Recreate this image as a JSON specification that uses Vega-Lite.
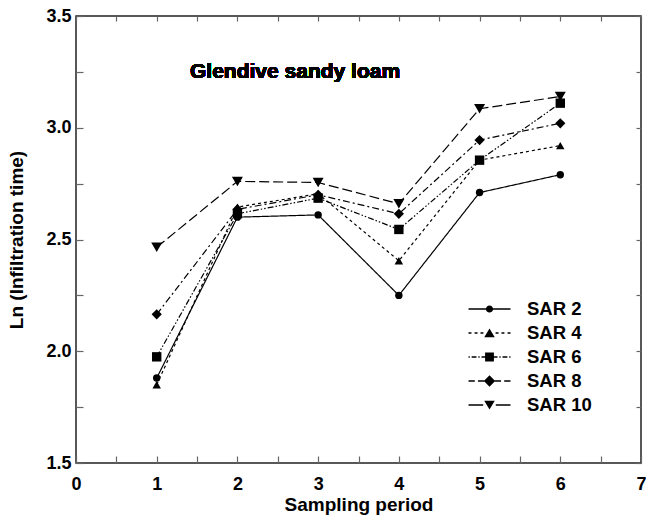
{
  "$schema": "https://vega.github.io/schema/vega-lite/v6.json",
  "width": 565,
  "height": 447,
  "autosize": {"type": "none"},
  "padding": {"left": 76, "top": 16, "right": 5, "bottom": 52},
  "background": "white",
  "config": {
    "view": {"stroke": "#222", "strokeWidth": 1.5},
    "font": "Liberation Sans",
    "axis": {
      "labelFont": "Liberation Sans", "labelFontWeight": "bold", "labelFontSize": 18, "labelColor": "black",
      "titleFont": "Liberation Sans", "titleFontWeight": "bold", "titleFontSize": 19, "titleColor": "black",
      "domain": false, "grid": false, "ticks": true, "tickColor": "#666", "tickWidth": 1.2, "tickOpacity": 1, "zindex": 1
    },
    "legend": {"labelFont": "Liberation Sans", "labelFontWeight": "bold", "labelFontSize": 18.5, "labelColor": "black"}
  },
  "data": {
    "values": [
      {"period": 1, "sar": "SAR 2", "ln": 1.88},
      {"period": 2, "sar": "SAR 2", "ln": 2.60},
      {"period": 3, "sar": "SAR 2", "ln": 2.61},
      {"period": 4, "sar": "SAR 2", "ln": 2.25},
      {"period": 5, "sar": "SAR 2", "ln": 2.71},
      {"period": 6, "sar": "SAR 2", "ln": 2.79},
      {"period": 1, "sar": "SAR 4", "ln": 1.85},
      {"period": 2, "sar": "SAR 4", "ln": 2.645},
      {"period": 3, "sar": "SAR 4", "ln": 2.705},
      {"period": 4, "sar": "SAR 4", "ln": 2.405},
      {"period": 5, "sar": "SAR 4", "ln": 2.855},
      {"period": 6, "sar": "SAR 4", "ln": 2.92},
      {"period": 1, "sar": "SAR 6", "ln": 1.975},
      {"period": 2, "sar": "SAR 6", "ln": 2.615},
      {"period": 3, "sar": "SAR 6", "ln": 2.685},
      {"period": 4, "sar": "SAR 6", "ln": 2.545},
      {"period": 5, "sar": "SAR 6", "ln": 2.855},
      {"period": 6, "sar": "SAR 6", "ln": 3.11},
      {"period": 1, "sar": "SAR 8", "ln": 2.165},
      {"period": 2, "sar": "SAR 8", "ln": 2.635},
      {"period": 3, "sar": "SAR 8", "ln": 2.70},
      {"period": 4, "sar": "SAR 8", "ln": 2.615},
      {"period": 5, "sar": "SAR 8", "ln": 2.945},
      {"period": 6, "sar": "SAR 8", "ln": 3.02},
      {"period": 1, "sar": "SAR 10", "ln": 2.465},
      {"period": 2, "sar": "SAR 10", "ln": 2.76},
      {"period": 3, "sar": "SAR 10", "ln": 2.755},
      {"period": 4, "sar": "SAR 10", "ln": 2.66},
      {"period": 5, "sar": "SAR 10", "ln": 3.085},
      {"period": 6, "sar": "SAR 10", "ln": 3.14}
    ]
  },
  "layer": [
    {
      "mark": {"type": "line", "color": "black", "strokeWidth": 1.2},
      "encoding": {
        "x": {
          "field": "period", "type": "quantitative",
          "scale": {"domain": [0, 7], "nice": false, "zero": false},
          "axis": {
            "orient": "bottom", "title": "Sampling period",
            "values": [0, 0.5, 1, 1.5, 2, 2.5, 3, 3.5, 4, 4.5, 5, 5.5, 6, 6.5, 7],
            "labelExpr": "datum.value % 1 === 0 ? format(datum.value, 'd') : ''",
            "tickSize": -7,
            "labelPadding": 19, "titlePadding": 2, "labelFlush": false
          }
        },
        "y": {
          "field": "ln", "type": "quantitative",
          "scale": {"domain": [1.5, 3.5], "nice": false, "zero": false},
          "axis": {
            "orient": "left", "title": "Ln (Infiltration time)", "format": ".1f",
            "values": [1.5, 1.75, 2, 2.25, 2.5, 2.75, 3, 3.25, 3.5],
            "labelExpr": "(datum.value * 2) % 1 === 0 ? datum.label : ''",
            "tickSize": -7,
            "labelPadding": 12, "titlePadding": 19, "labelFlush": false
          }
        },
        "strokeDash": {
          "field": "sar", "type": "nominal", "legend": null,
          "scale": {
            "domain": ["SAR 2", "SAR 4", "SAR 6", "SAR 8", "SAR 10"],
            "range": [[1, 0], [3, 3], [6, 2, 1.5, 2, 1.5, 2], [7, 3, 2, 3], [10, 4]]
          }
        }
      }
    },
    {
      "mark": {"type": "point", "filled": true, "color": "black", "opacity": 1},
      "encoding": {
        "x": {
          "field": "period", "type": "quantitative",
          "axis": {
            "orient": "top", "title": null, "labels": false,
            "values": [0, 0.5, 1, 1.5, 2, 2.5, 3, 3.5, 4, 4.5, 5, 5.5, 6, 6.5, 7],
            "tickSize": -5
          }
        },
        "y": {
          "field": "ln", "type": "quantitative",
          "axis": {
            "orient": "right", "title": null, "labels": false,
            "values": [1.5, 1.75, 2, 2.25, 2.5, 2.75, 3, 3.25, 3.5],
            "tickSize": -5
          }
        },
        "shape": {
          "field": "sar", "type": "nominal", "legend": null,
          "scale": {
            "domain": ["SAR 2", "SAR 4", "SAR 6", "SAR 8", "SAR 10"],
            "range": ["circle", "triangle-up", "square", "diamond", "triangle-down"]
          }
        },
        "size": {
          "field": "sar", "type": "nominal", "legend": null,
          "scale": {
            "domain": ["SAR 2", "SAR 4", "SAR 6", "SAR 8", "SAR 10"],
            "range": [55, 121, 90, 110, 121]
          }
        }
      }
    },
    {
      "mark": {"type": "point", "filled": true, "fill": "black", "stroke": "black", "opacity": 0},
      "encoding": {
        "x": {"field": "period", "type": "quantitative", "axis": null},
        "y": {"field": "ln", "type": "quantitative", "axis": null},
        "shape": {
          "field": "sar", "type": "nominal",
          "scale": {
            "domain": ["SAR 2", "SAR 4", "SAR 6", "SAR 8", "SAR 10"],
            "range": [
              "M-1,-0.03H1V0.03H-1ZM0.17,0A0.17,0.17,0,1,1,-0.17,0A0.17,0.17,0,1,1,0.17,0Z",
              "M-1,-0.03H-0.86V0.03H-1ZM-0.71,-0.03H-0.57V0.03H-0.71ZM-0.43,-0.03H-0.29V0.03H-0.43ZM0.29,-0.03H0.43V0.03H0.29ZM0.57,-0.03H0.71V0.03H0.57ZM0.86,-0.03H1V0.03H0.86ZM0,-0.22L0.25,0.2L-0.25,0.2Z",
              "M-1,-0.03H-0.94V0.03H-1ZM-0.85,-0.03H-0.62V0.03H-0.85ZM-0.53,-0.03H-0.47V0.03H-0.53ZM-0.38,-0.03H-0.2V0.03H-0.38ZM0.2,-0.03H0.38V0.03H0.2ZM0.47,-0.03H0.53V0.03H0.47ZM0.62,-0.03H0.85V0.03H0.62ZM0.94,-0.03H1V0.03H0.94ZM-0.21,-0.21H0.21V0.21H-0.21Z",
              "M-1,-0.03H-0.7V0.03H-1ZM-0.55,-0.03H-0.25V0.03H-0.55ZM0.25,-0.03H0.55V0.03H0.25ZM0.7,-0.03H1V0.03H0.7ZM-0.27,0L0,-0.27L0.27,0L0,0.27Z",
              "M-1,-0.03H-0.3V0.03H-1ZM0.3,-0.03H1V0.03H0.3ZM0,0.22L0.25,-0.2L-0.25,-0.2Z"
            ]
          },
          "legend": {
            "title": null, "orient": "none", "legendX": 392, "legendY": 282,
            "symbolSize": 1764, "symbolStrokeWidth": 0.4, "symbolOpacity": 1,
            "symbolFillColor": "black", "symbolStrokeColor": "black",
            "labelOffset": 16, "rowPadding": 2, "clipHeight": 22
          }
        }
      }
    },
    {
      "mark": {"type": "text", "font": "Liberation Sans", "fontWeight": "bold", "fontSize": 21, "align": "left", "baseline": "middle", "color": "black"},
      "encoding": {
        "x": {"datum": 1.4124, "type": "quantitative", "axis": null},
        "y": {"datum": 3.24944, "type": "quantitative", "axis": null},
        "text": {"value": "Glendive sandy loam"}
      }
    }
  ],
  "resolve": {
    "axis": {"x": "independent", "y": "independent"},
    "scale": {"shape": "independent"}
  }
}
